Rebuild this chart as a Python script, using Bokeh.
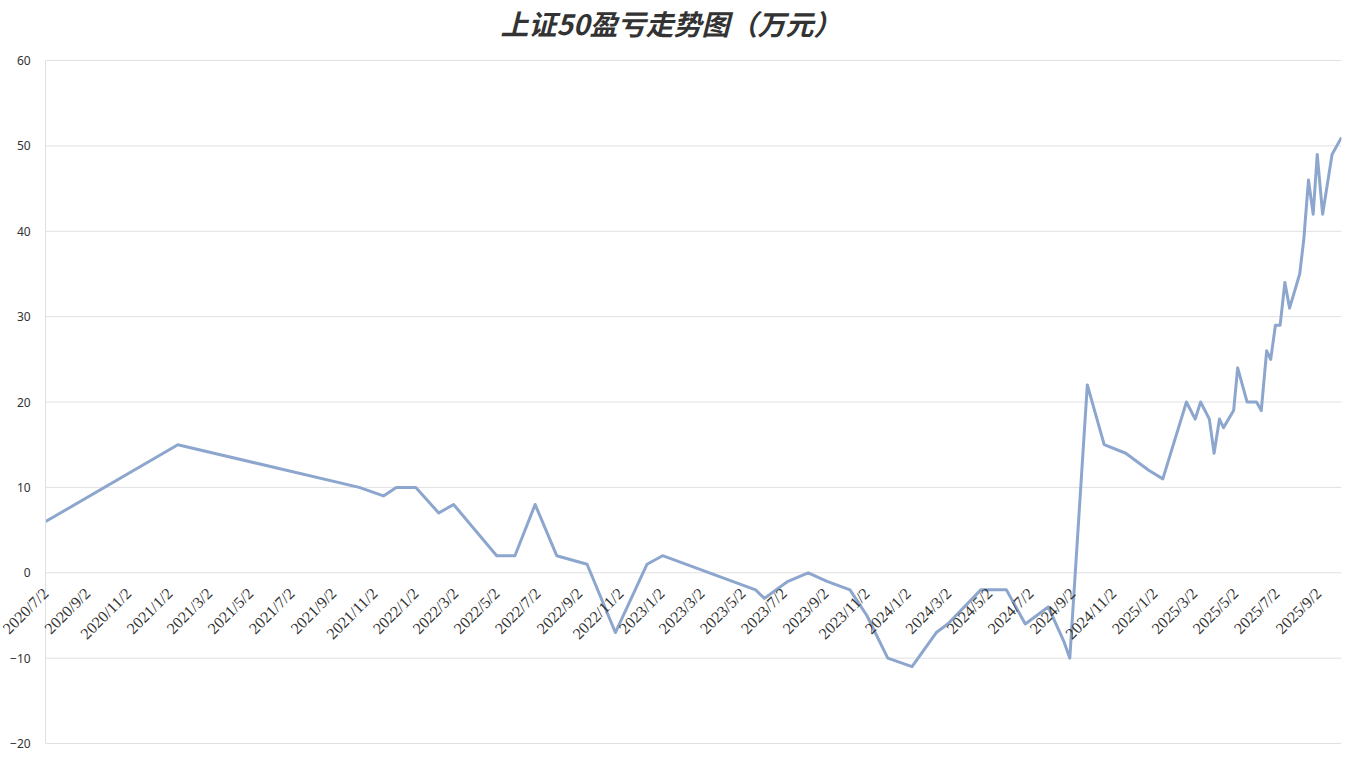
import math
import pandas as pd
from bokeh.plotting import figure
from bokeh.models import Range1d, FixedTicker, ColumnDataSource, LabelSet
from bokeh.embed import file_html
from bokeh.resources import INLINE

# ---- data ----
dates = [
    "2020-07-02", "2021-01-14", "2021-10-10", "2021-11-15", "2021-12-04", "2022-01-02",
    "2022-02-05", "2022-02-27", "2022-05-02", "2022-05-29", "2022-06-28", "2022-07-30",
    "2022-09-13", "2022-10-25", "2022-12-11", "2023-01-03", "2023-05-21", "2023-06-03",
    "2023-07-08", "2023-08-07", "2023-09-04", "2023-10-08", "2023-11-02", "2023-12-03",
    "2024-01-08", "2024-02-13", "2024-03-01", "2024-04-19", "2024-05-27", "2024-06-24",
    "2024-07-28", "2024-08-20", "2024-08-29", "2024-09-24", "2024-10-19", "2024-11-20",
    "2024-12-24", "2025-01-14", "2025-02-18", "2025-03-03", "2025-03-11", "2025-03-24",
    "2025-03-31", "2025-04-08", "2025-04-14", "2025-04-29", "2025-05-05", "2025-05-19",
    "2025-06-02", "2025-06-09", "2025-06-17", "2025-06-23", "2025-06-30", "2025-07-07",
    "2025-07-14", "2025-07-21", "2025-08-05", "2025-08-11", "2025-08-18", "2025-08-25",
    "2025-08-31", "2025-09-08", "2025-09-22", "2025-10-06",
]
profit = [
    6, 15, 10, 9, 10, 10,
    7, 8, 2, 2, 8, 2,
    1, -7, 1, 2, -2, -3,
    -1, 0, -1, -2, -5, -10,
    -11, -7, -6, -2, -2, -6,
    -4, -8, -10, 22, 15, 14,
    12, 11, 20, 18, 20, 18,
    14, 18, 17, 19, 24, 20,
    20, 19, 26, 25, 29, 29,
    34, 31, 35, 39, 46, 42,
    49, 42, 49, 51,
]
tick_dates = [
    "2020-07-02", "2020-09-02", "2020-11-02", "2021-01-02", "2021-03-02", "2021-05-02",
    "2021-07-02", "2021-09-02", "2021-11-02", "2022-01-02", "2022-03-02", "2022-05-02",
    "2022-07-02", "2022-09-02", "2022-11-02", "2023-01-02", "2023-03-02", "2023-05-02",
    "2023-07-02", "2023-09-02", "2023-11-02", "2024-01-02", "2024-03-02", "2024-05-02",
    "2024-07-02", "2024-09-02", "2024-11-02", "2025-01-02", "2025-03-02", "2025-05-02",
    "2025-07-02", "2025-09-02",
]
y_ticks = [-20, -10, 0, 10, 20, 30, 40, 50, 60]
title_text = "上证50盈亏走势图（万元）"

# ---- build ----
x = pd.to_datetime(dates)
src = ColumnDataSource(dict(x=x, y=profit))

tick_ts = pd.to_datetime(tick_dates)
tick_src = ColumnDataSource(dict(
    x=tick_ts,
    y=[0] * len(tick_ts),
    label=[f"{t.year}/{t.month}/{t.day}" for t in tick_ts],
))
grid_src = ColumnDataSource(dict(
    x0=[x[0]] * len(y_ticks), x1=[x[-1]] * len(y_ticks), y=y_ticks,
))

# room inside the frame for the y labels (the y axis sits at the first date)
left_pad = pd.Timedelta(days=67)
bottom_pad = 1.05
top_pad = 2.11

p = figure(
    width=1342, height=752,
    x_axis_type="datetime",
    output_backend="svg", toolbar_location=None,
    x_range=Range1d(x[0] - left_pad, x[-1]),
    y_range=Range1d(y_ticks[0] - bottom_pad, y_ticks[-1] + top_pad),
    min_border_left=0, min_border_right=1, min_border_top=42, min_border_bottom=0,
)
p.title.text = title_text
p.title.align = "center"
p.title.vertical_align = "bottom"
p.title.standoff = 0
p.title.text_font = "Noto Sans CJK SC"
p.title.text_font_size = "28px"
p.title.text_font_style = "bold italic"
p.title.text_color = "#333333"

p.outline_line_color = None
p.background_fill_color = "white"
p.border_fill_color = "white"
p.xgrid.grid_line_color = None
p.ygrid.grid_line_color = None

# horizontal grid lines over the data span
p.segment("x0", "y", "x1", "y", source=grid_src, line_color="#E0E0E0", line_width=1)

p.line("x", "y", source=src, line_color="#8DA6CE", line_width=3, line_join="round")

# x axis sits on the zero line: hide the bottom axis and label the ticks there
p.xaxis.visible = False
labels = LabelSet(
    x="x", y="y", text="label", source=tick_src,
    angle=math.pi / 4, text_align="right", text_baseline="middle",
    y_offset=-18, x_offset=0,
    text_font="Noto Sans", text_font_size="16px", text_color="#333333",
)
p.add_layout(labels)

ya = p.yaxis[0]
ya.fixed_location = float(x[0].value // 10**6)
ya.bounds = (y_ticks[0], y_ticks[-1])
ya.ticker = FixedTicker(ticks=y_ticks)
ya.major_label_text_font = "Noto Sans"
ya.major_label_text_font_size = "12px"
ya.major_label_text_color = "#333333"
ya.axis_line_color = "#E0E0E0"
ya.major_tick_line_color = None
ya.minor_tick_line_color = None
ya.major_label_standoff = 9

open("out.html", "w").write(file_html(p, INLINE))
